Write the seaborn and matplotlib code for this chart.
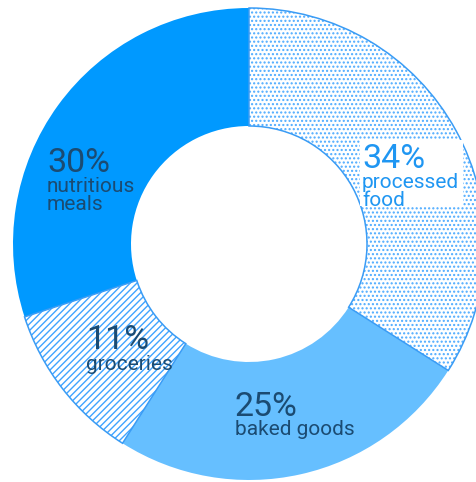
import matplotlib
matplotlib.use("Agg")
import matplotlib.pyplot as plt
import seaborn as sns
from matplotlib.patches import Rectangle

# ---- data -------------------------------------------------------------
categories = ["processed\nfood", "baked goods", "groceries", "nutritious\nmeals"]
shares = [34, 25, 11, 30]

# ---- styling ----------------------------------------------------------
fill_colors = ["white", "#66bfff", "white", "#0099ff"]
hatch_styles = ["....", "", "/////", ""]
pattern_colors = ["#4dabff", "#66bfff", "#3fa3ff", "#0099ff"]
outline_colors = ["#3a9cf5", None, "#3a9cf5", None]
text_colors = ["#1f96f2", "#1b4b72", "#1b4b72", "#1b4b72"]

# label layout in pixels: left x, percent baseline, first name-line baseline
label_layout = [(362, 168, 188), (235, 416, 435), (86, 349, 370), (47, 172, 192)]
name_step = 18
backdrop_px = (360, 140, 463, 206)   # white box behind the first label

W, H = 477, 482
CX, CY, R = 249, 244, 236           # ring centre and outer radius in pixels

sns.set_theme(style="white")
plt.rcParams["font.family"] = ["Roboto", "DejaVu Sans"]
plt.rcParams["hatch.linewidth"] = 1.0

fig = plt.figure(figsize=(W / 100, H / 100), dpi=100)
ax = fig.add_axes([0, 0, 1, 1])


def px(x, y):
    return (x - CX) / R, (CY - y) / R


wedges, _ = ax.pie(
    shares, startangle=90, counterclock=False, radius=1,
    colors=fill_colors, wedgeprops=dict(width=0.5, linewidth=0),
)
for w, hatch, pc in zip(wedges, hatch_styles, pattern_colors):
    if hatch:
        w.set_edgecolor(pc)
        w.set_hatch(hatch)

# outlines around the patterned segments
outlines, _ = ax.pie(
    shares, startangle=90, counterclock=False, radius=1,
    wedgeprops=dict(width=0.5, fill=False, linewidth=1.1),
)
for w, oc in zip(outlines, outline_colors):
    if oc is None:
        w.set_visible(False)
    else:
        w.set_edgecolor(oc)

# pie() resets the view, so fix the limits afterwards
ax.set_aspect("auto")
ax.set_xlim(-CX / R, (W - CX) / R)
ax.set_ylim((CY - H) / R, CY / R)
ax.axis("off")

# white backdrop behind the processed food label
x0, y0 = px(backdrop_px[0], backdrop_px[3])
x1, y1 = px(backdrop_px[2], backdrop_px[1])
ax.add_patch(Rectangle((x0, y0), x1 - x0, y1 - y0, facecolor="white",
                       edgecolor="none", zorder=3))

for name, share, color, (lx, pb, nb) in zip(categories, shares, text_colors,
                                             label_layout):
    ax.text(*px(lx, pb), f"{share}%", fontsize=24.5, color=color,
            ha="left", va="baseline", zorder=4)
    for i, line in enumerate(name.split("\n")):
        ax.text(*px(lx, nb + i * name_step), line, fontsize=15, color=color,
                ha="left", va="baseline", zorder=4)

fig.savefig("out.png", dpi=100)
